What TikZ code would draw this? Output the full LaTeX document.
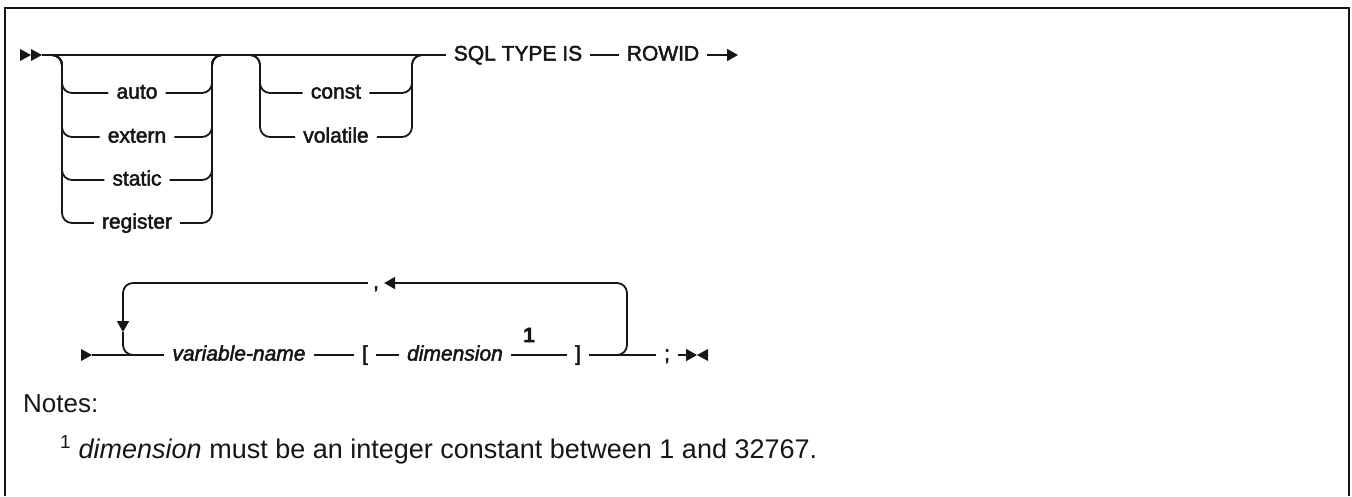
\documentclass[tikz,border=0pt]{standalone}
\usepackage{fontspec}
\setmainfont{Liberation Sans}
\newfontfamily\railfam{Liberation Sans}[FakeBold=2.2]
\usetikzlibrary{arrows.meta,positioning,calc}
\definecolor{ink}{HTML}{161616}
\newcommand{\railfont}{\railfam\fontsize{21}{24}\selectfont}
\newcommand{\notefont}{\rmfamily\fontsize{26}{30}\selectfont}
\tikzset{
  >={Triangle[length=11pt,width=12pt]},
  rail/.style={draw=ink,line width=1.8pt,rounded corners=10pt},
  kw/.style={font=\railfont,text=ink,inner xsep=8pt,inner ysep=2pt,anchor=mid},
  var/.style={kw,font=\railfont\itshape},
  fnref/.style={font=\railfont\bfseries,text=ink,inner sep=0pt},
  note/.style={font=\notefont,text=ink,anchor=base west,inner sep=0pt},
  frame/.style={draw=ink,line width=2.5pt},
}
\newcommand{\rtri}[2]{\fill[ink] (#1,#2-6) -- (#1+11,#2) -- (#1,#2+6) -- cycle;}
\newcommand{\ltri}[2]{\fill[ink] (#1+11,#2-6) -- (#1,#2) -- (#1+11,#2+6) -- cycle;}

\begin{document}
\railfont
\begin{tikzpicture}[x=1pt,y=-1pt]
\useasboundingbox (0,0) rectangle (1352,496);
\draw[frame] (5,496) -- (5,8) -- (1349,8) -- (1349,496);

% ================= TOP ROW =================
\rtri{20}{55} \rtri{31}{55}
\coordinate (topin) at (42,55);
\coordinate (aL) at (62,55);  \coordinate (aR) at (212,55); \coordinate (aOut) at (230,55);
\coordinate (bIn) at (240,55); \coordinate (bL) at (260,55); \coordinate (bR) at (412,55); \coordinate (bOut) at (430,55);
\coordinate (topend) at (738,55);

\node[kw] (auto) at (137,93) {auto};
\node[kw] (extern) at (137,137) {extern};
\node[kw] (static) at (137,180) {static};
\node[kw] (register) at (137,223) {register};
\node[kw] (const) at (336,93) {const};
\node[kw] (volatile) at (336,137) {volatile};
\node[kw] (sql) at (518,55) {SQL TYPE IS};
\node[kw] (rowid) at (663,55) {ROWID};

\draw[rail] (topin) -- (sql.mid west);
\foreach \w in {auto,extern,static,register}{
  \draw[rail] (topin) -- (aL) |- (\w.mid west);
  \draw[rail] (\w.mid east) -| (aR) -- (aOut);
}
\foreach \w in {const,volatile}{
  \draw[rail] (bIn) -- (bL) |- (\w.mid west);
  \draw[rail] (\w.mid east) -| (bR) -- (bOut);
}
\draw[rail] (sql.mid east) -- (rowid.mid west);
\draw[rail,->] (rowid.mid east) -- (topend);

% ================= BOTTOM ROW =================
\rtri{81}{355}
\coordinate (botin) at (92,355);
\coordinate (botend) at (697,355);
\coordinate (lpL) at (123,283);  \coordinate (lpLb) at (123,355);
\coordinate (lpR) at (627,283);  \coordinate (lpRb) at (627,355);
\coordinate (lpTip) at (123,332); \coordinate (lpIn) at (600,355); \coordinate (lpOut) at (150,355);

\node[var] (varname) at (239,355) {variable-name};
\node[kw] (lbr) at (365,355) {[};
\node[var] (dim) at (455,355) {dimension};
\node[fnref] (fn) at (529,335) {1};
\node[kw] (rbr) at (578,355) {]};
\node[kw] (semi) at (667,355) {;};
\node[kw,inner xsep=5pt] (comma) at (376,283) {,};

\draw[rail] (botin) -- (varname.mid west);
\draw[rail] (varname.mid east) -- (lbr.mid west);
\draw[rail] (lbr.mid east) -- (dim.mid west);
\draw[rail] (dim.mid east) -- (rbr.mid west);
\draw[rail] (rbr.mid east) -- (semi.mid west);
\draw[rail,->] (semi.mid east) -- (botend);
\ltri{697}{355}

% repeat loop
\draw[rail,->] (lpIn) -- (lpRb) -- (lpR) -- (comma.mid east);
\draw[rail,->] (comma.mid west) -- (lpL) -- (lpTip);
\draw[rail] (lpTip) -- (lpLb) -- (lpOut);

% ================= NOTES =================
\node[note] (notes) at (23,412) {Notes:};
\node[note,font=\rmfamily\fontsize{27}{30}\selectfont] (fntext) at (60,458) {\textsuperscript{1} \textit{dimension} must be an integer constant between 1 and 32767.};

\end{tikzpicture}
\end{document}
